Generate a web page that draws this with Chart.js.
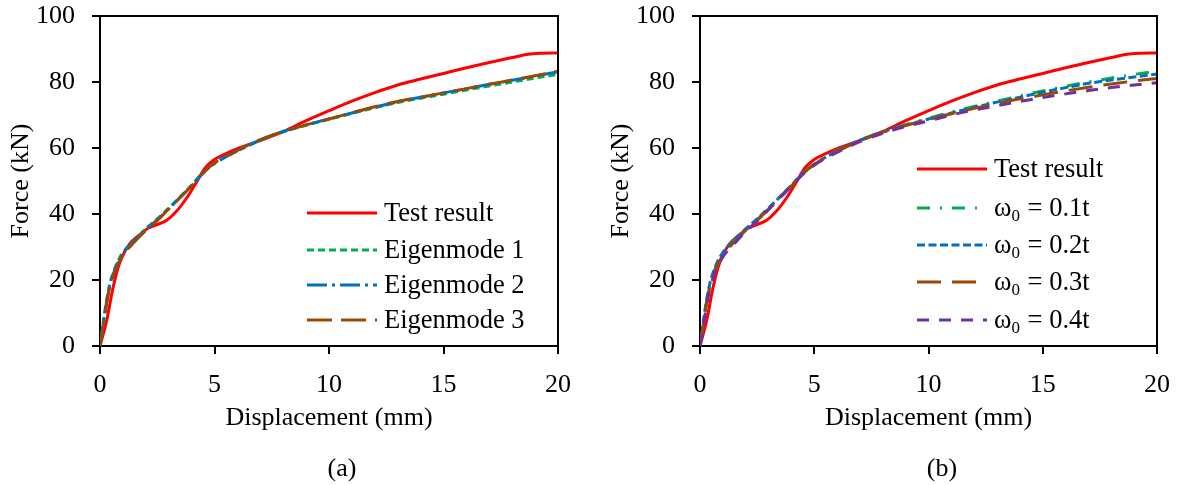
<!DOCTYPE html>
<html>
<head>
<meta charset="utf-8">
<script src="https://cdn.jsdelivr.net/npm/chart.js@4.4.1/dist/chart.umd.min.js"></script>
<style>
  html, body { margin: 0; padding: 0; background: #fff; }
  #wrap { display: flex; width: 1178px; height: 485px; }
  canvas { display: block; }
</style>
</head>
<body>
<div id="wrap">
  <canvas id="chartA" width="589" height="485"></canvas>
  <canvas id="chartB" width="589" height="485"></canvas>
</div>
<script>
// ---------- data ----------
const xTicks = [0, 5, 10, 15, 20];
const yTicks = [0, 20, 40, 60, 80, 100];

const testX = [0,0.3,0.55,0.8,1.0,1.3,1.7,2.1,2.5,2.9,3.3,3.8,4.2,4.6,5.0,5.5,6,7,8,9,10,11,12,13,14,15,16,17,18,18.7,19.3,20];
const testY = [0,8,17,24,27.5,31,33.5,35.7,36.8,38,40.5,45,49.5,54,56.5,58.3,59.8,62.3,65,68.3,71.3,74.2,76.8,79.1,80.9,82.6,84.3,85.9,87.4,88.4,88.7,88.8];

const simX = [0,0.2,0.4,0.7,1,1.5,2,2.5,3,3.5,4,4.5,5,5.5,6,7,8,9,10,11,12,13,14,15,16,17,18,19,20];

// (a) eigenmodes
const eig1Y = [0,10,18,24.5,28.3,32,35.5,38.5,41.8,45.2,48.8,52.5,55.3,57.3,59.1,62.3,64.9,66.9,68.7,70.5,72.2,73.8,75.1,76.3,77.6,78.8,80,81.2,82.3];
const eig2Y = [0,9.5,17.5,24,28,32,35.3,38.2,41.6,45,48.6,52.4,55.3,57.4,59.2,62.4,65,67,68.8,70.6,72.4,74,75.4,76.7,78,79.3,80.5,81.8,83.1];
const eig3Y = [0,9,17,23.5,27.5,31.5,35,38,41.5,45,48.5,52.5,55.5,57.5,59.3,62.5,65,67,68.8,70.7,72.5,74.1,75.4,76.7,78,79.3,80.6,81.9,83.3];

// (b) imperfection amplitudes
const w1Y = [0,9.5,17.5,24,28,32,35.3,38.3,41.7,45.2,48.7,52.4,55.2,57.3,59.2,62.4,65,67.1,69,70.9,72.6,74.2,75.8,77.3,78.7,80,81.2,82.3,83.3];
const w2Y = [0,10,18,24.5,28.3,32.2,35.5,38.5,41.8,45.2,48.7,52.3,55.1,57.2,59.1,62.3,64.9,66.9,68.8,70.6,72.3,73.9,75.4,76.9,78.3,79.6,80.6,81.5,82.4];
const w3Y = [0,9,17,23.5,27.5,31.5,35,38,41.5,45,48.5,52.2,55,57.1,59,62.2,64.8,66.8,68.6,70.4,72,73.5,74.9,76.1,77.3,78.4,79.4,80.3,81.1];
const w4Y = [0,8.5,16.5,23,27,31,34.7,37.8,41.3,44.9,48.4,52,54.8,56.9,58.7,61.9,64.5,66.5,68.2,70,71.5,72.8,74.1,75.3,76.4,77.4,78.3,79.1,79.8];

const labelsA = ['Test result', 'Eigenmode 1', 'Eigenmode 2', 'Eigenmode 3'];
const labelsB = ['Test result', 'ω₀ = 0.1t', 'ω₀ = 0.2t', 'ω₀ = 0.3t', 'ω₀ = 0.4t'];

// ---------- helpers ----------
const FONT = '"Liberation Serif", "Times New Roman", serif';
const RED = '#FF0000', GREEN = '#00B050', BLUE = '#0070C0', BROWN = '#984807', PURPLE = '#7030A0';

function pts(xs, ys) { return xs.map((x, i) => ({ x: x, y: ys[i] })); }

function ds(label, xs, ys, color, dash, order) {
  return {
    label: label, data: pts(xs, ys), borderColor: color, backgroundColor: color,
    borderWidth: 3, borderDash: dash, pointRadius: 0, tension: 0.35,
    cubicInterpolationMode: 'monotone', fill: false, order: order
  };
}

const boxPlugin = {
  id: 'boxPlugin',
  afterDatasetsDraw(chart) {
    const a = chart.chartArea, c = chart.ctx;
    c.save();
    c.strokeStyle = '#000'; c.lineWidth = 2;
    c.beginPath();
    c.moveTo(a.left, a.top); c.lineTo(a.right, a.top); c.lineTo(a.right, a.bottom);
    c.stroke();
    c.restore();
  }
};

function drawLabel(c, text, x, y, size) {
  const parts = text.split('₀');
  let cx = x;
  c.textBaseline = 'middle';
  c.textAlign = 'left';
  parts.forEach((p, i) => {
    c.font = size + 'px ' + FONT;
    c.fillText(p, cx, y);
    cx += c.measureText(p).width;
    if (i < parts.length - 1) {
      c.font = Math.round(size * 0.65) + 'px ' + FONT;
      c.fillText('0', cx, y + size * 0.28);
      cx += c.measureText('0').width + 1;
    }
  });
}

const legendPlugin = {
  id: 'myLegend',
  afterDraw(chart, args, opts) {
    const c = chart.ctx;
    c.save();
    chart.data.datasets.forEach((d, i) => {
      const y = opts.rows[i];
      c.strokeStyle = d.borderColor; c.lineWidth = 3;
      c.setLineDash(d.borderDash || []);
      c.beginPath(); c.moveTo(opts.x0, y); c.lineTo(opts.x1, y); c.stroke();
      c.setLineDash([]);
      c.fillStyle = '#000';
      drawLabel(c, d.label, opts.tx, y + 1, opts.size);
    });
    c.font = '26px ' + FONT; c.fillStyle = '#000';
    c.textAlign = 'center'; c.textBaseline = 'middle';
    c.fillText(opts.caption, opts.cx, opts.cy);
    c.restore();
  }
};

function makeOptions(yWidth, padRight, yTitlePad, legend) {
  const tickFont = { family: FONT, size: 26 };
  return {
    responsive: false, animation: false, devicePixelRatio: 1,
    layout: { padding: { top: 16, right: padRight, left: 0, bottom: 0 } },
    plugins: { legend: { display: false }, tooltip: { enabled: false }, myLegend: legend },
    scales: {
      x: {
        type: 'linear', min: 0, max: 20,
        afterBuildTicks: s => { s.ticks = xTicks.map(v => ({ value: v })); },
        afterFit: s => { s.height = 139; s.paddingLeft = 0; s.paddingRight = 0; },
        ticks: { color: '#000', font: tickFont, padding: 16, maxRotation: 0 },
        grid: { drawOnChartArea: false, drawTicks: true, tickLength: 8, color: '#000', lineWidth: 2 },
        border: { color: '#000', width: 2 },
        title: { display: true, text: 'Displacement (mm)', color: '#000', font: tickFont, padding: { top: 0, bottom: 51 } }
      },
      y: {
        type: 'linear', min: 0, max: 100,
        afterBuildTicks: s => { s.ticks = yTicks.map(v => ({ value: v })); },
        afterFit: s => { s.width = yWidth; s.paddingTop = 0; s.paddingBottom = 0; },
        ticks: { color: '#000', font: tickFont, padding: 17 },
        grid: { drawOnChartArea: false, drawTicks: true, tickLength: 8, color: '#000', lineWidth: 2 },
        border: { color: '#000', width: 2 },
        title: { display: true, text: 'Force (kN)', color: '#000', font: tickFont, padding: { top: yTitlePad, bottom: 0 } }
      }
    }
  };
}

new Chart(document.getElementById('chartA'), {
  type: 'line',
  data: {
    datasets: [
      ds(labelsA[0], testX, testY, RED, [], 4),
      ds(labelsA[1], simX, eig1Y, GREEN, [7, 4], 3),
      ds(labelsA[2], simX, eig2Y, BLUE, [20, 5, 3, 5], 2),
      ds(labelsA[3], simX, eig3Y, BROWN, [25, 9], 1)
    ]
  },
  options: makeOptions(100, 31, 6, { x0: 307, x1: 377, tx: 384, rows: [213, 250, 285, 320], size: 26.5, caption: '(a)', cx: 342, cy: 469 }),
  plugins: [boxPlugin, legendPlugin]
});

new Chart(document.getElementById('chartB'), {
  type: 'line',
  data: {
    datasets: [
      ds(labelsB[0], testX, testY, RED, [], 5),
      ds(labelsB[1], simX, w1Y, GREEN, [13, 10, 2, 10], 4),
      ds(labelsB[2], simX, w2Y, BLUE, [8, 3.5], 3),
      ds(labelsB[3], simX, w3Y, BROWN, [24, 11], 2),
      ds(labelsB[4], simX, w4Y, PURPLE, [12, 10], 1)
    ]
  },
  options: makeOptions(111, 21, 17, { x0: 328, x1: 398, tx: 405, rows: [169, 208, 245, 282, 320], size: 26.5, caption: '(b)', cx: 353, cy: 469 }),
  plugins: [boxPlugin, legendPlugin]
});
</script>
</body>
</html>
